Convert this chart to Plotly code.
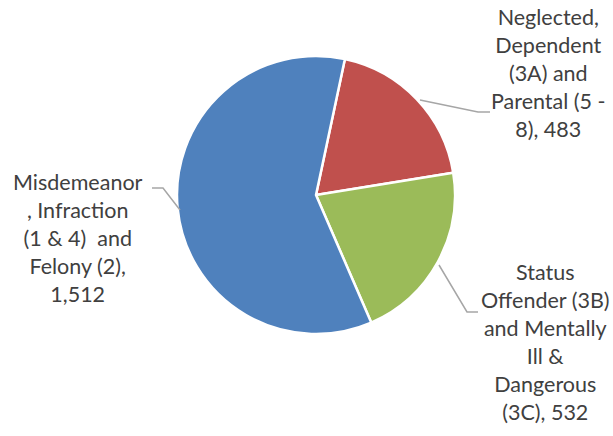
import plotly.graph_objects as go

W, H = 613, 436

categories = [
    "Neglected,<br>Dependent<br>(3A) and<br>Parental (5 -<br>8), 483",
    "Status<br>Offender (3B)<br>and Mentally<br>Ill &<br>Dangerous<br>(3C), 532",
    "Misdemeanor<br>, Infraction<br>(1 & 4)  and<br>Felony (2),<br>1,512",
]
values = [483, 532, 1512]
colors = ["#C0504D", "#9BBB59", "#4F81BD"]

def px(x):
    return x / W

def py(y):
    return 1 - y / H

fig = go.Figure(go.Pie(
    labels=categories,
    values=values,
    sort=False,
    direction="clockwise",
    rotation=12,
    marker=dict(colors=colors, line=dict(color="white", width=2.5)),
    textinfo="none",
    hoverinfo="label+value",
    domain=dict(x=[px(177), px(455)], y=[py(334), py(56)]),
    showlegend=False,
))

label_pos = [(548, 73), (545, 342), (78, 238)]
anns = []
for txt, (x, y) in zip(categories, label_pos):
    anns.append(dict(
        x=px(x), y=py(y), xref="paper", yref="paper", text=txt,
        showarrow=False, align="center", xanchor="center", yanchor="middle",
        font=dict(family="Lato, Liberation Sans, sans-serif", size=21.5, color="#404040"),
    ))

leaders = [
    [(420, 100), (478, 112), (490, 112)],
    [(439, 265), (467, 312), (478, 312)],
    [(152, 188), (163, 188), (180, 210)],
]
shapes = []
for pts in leaders:
    path = "M " + " L ".join(f"{px(a)},{py(b)}" for a, b in pts)
    shapes.append(dict(type="path", path=path, xref="paper", yref="paper",
                       line=dict(color="#A6A6A6", width=1.5)))

fig.update_layout(
    width=W, height=H,
    margin=dict(l=0, r=0, t=0, b=0),
    paper_bgcolor="white", plot_bgcolor="white",
    annotations=anns, shapes=shapes,
)

fig.write_html("out.html", config={"displayModeBar": False},
               post_script="document.body.style.margin='0px';")
